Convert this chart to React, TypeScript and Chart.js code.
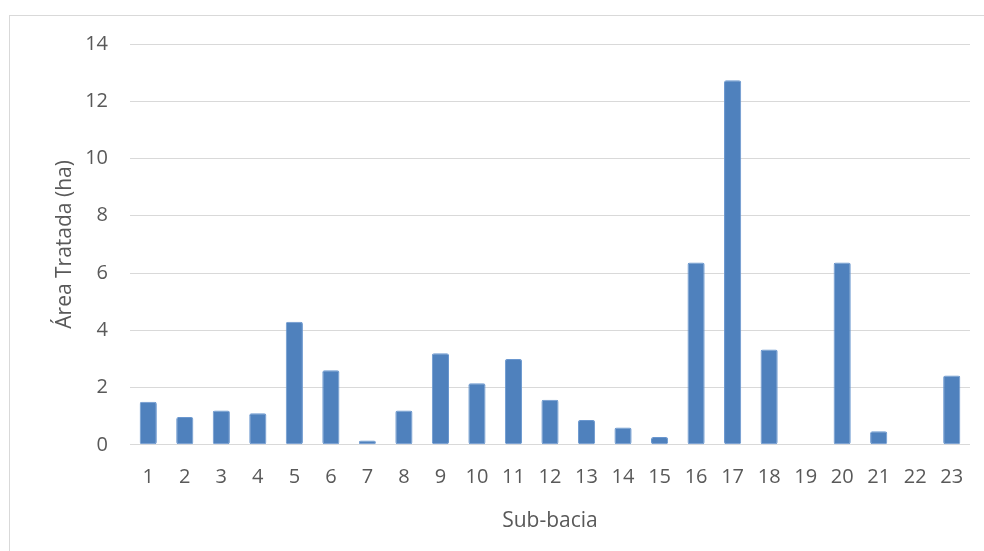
import React, { useEffect, useRef } from "react";
import { Chart, registerables } from "chart.js";

Chart.register(...registerables);

const categories = ["1","2","3","4","5","6","7","8","9","10","11","12","13","14","15","16","17","18","19","20","21","22","23"];
const areaTratada = [1.5, 0.97, 1.2, 1.1, 4.3, 2.6, 0.15, 1.2, 3.2, 2.15, 3.0, 1.57, 0.87, 0.6, 0.27, 6.37, 12.73, 3.33, 0, 6.37, 0.47, 0, 2.42];
const yTitle = "Área Tratada (ha)";
const xTitle = "Sub-bacia";

export default function App() {
  const ref = useRef<HTMLCanvasElement | null>(null);
  useEffect(() => {
    if (!ref.current) return;
    const font = "'Open Sans', sans-serif";
    const chart = new Chart(ref.current, {
      type: "bar",
      data: {
        labels: categories,
        datasets: [
          {
            data: areaTratada,
            backgroundColor: "#4F81BD",
            borderColor: "#6A97CF",
            borderWidth: 1,
            borderRadius: 2,
            borderSkipped: false,
            barPercentage: 0.47,
            categoryPercentage: 1,
          },
        ],
      },
      options: {
        animation: false,
        responsive: false,
        maintainAspectRatio: false,
        layout: { padding: { top: 44, right: 14, bottom: 17, left: 0 } },
        plugins: { legend: { display: false }, tooltip: { enabled: false } },
        scales: {
          x: {
            grid: { display: false, drawTicks: false },
            border: { display: false },
            ticks: { color: "#595959", font: { family: font, size: 20 }, padding: 20, maxRotation: 0 },
            title: { display: true, text: xTitle, color: "#595959", font: { family: font, size: 21 }, padding: { top: 0, bottom: 0 } },
          },
          y: {
            min: 0,
            max: 14,
            ticks: { stepSize: 2, color: "#595959", font: { family: font, size: 20 }, padding: 22 },
            grid: { color: "#D9D9D9", lineWidth: 1, drawTicks: false },
            border: { display: false },
            title: { display: true, text: yTitle, color: "#595959", font: { family: font, size: 21 }, padding: { top: 52, bottom: 0 } },
            afterFit: (s: any) => { s.width = 130; },
          },
        },
      },
    });
    return () => chart.destroy();
  }, []);
  return (
    <div style={{ position: "fixed", left: 0, top: 0, width: 984, height: 551, background: "#fff", overflow: "hidden" }}>
      <div style={{ position: "absolute", left: 9, top: 15, width: 1000, height: 600, border: "1px solid #D9D9D9", boxSizing: "border-box" }} />
      <canvas ref={ref} width={984} height={551} style={{ position: "absolute", left: 0, top: 0 }} />
    </div>
  );
}
